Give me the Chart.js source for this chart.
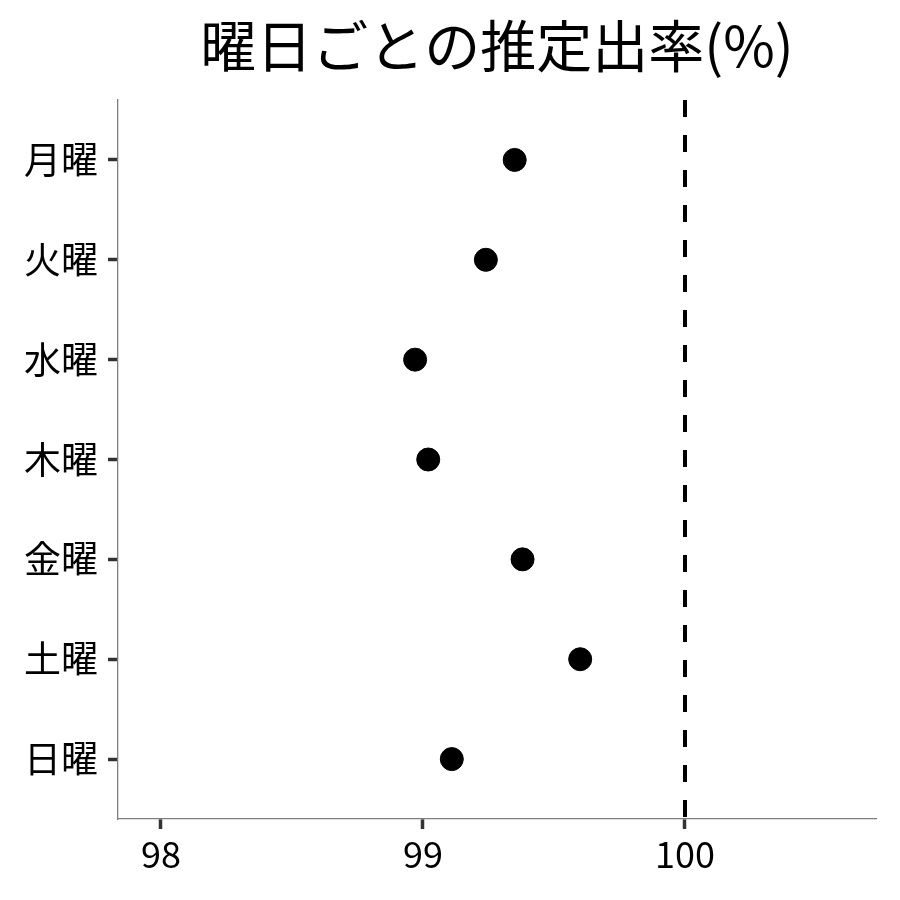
<!DOCTYPE html>
<html>
<head>
<meta charset="utf-8">
<script src="https://cdn.jsdelivr.net/npm/chart.js@4"></script>
<style>
  html, body { margin: 0; padding: 0; background: #fff; }
  #wrap { width: 900px; height: 900px; }
</style>
</head>
<body>
<div id="wrap"><canvas id="c" width="900" height="900"></canvas></div>
<script>
// data
const days = ["月曜", "火曜", "水曜", "木曜", "金曜", "土曜", "日曜"];
const rates = [99.35, 99.24, 98.97, 99.02, 99.38, 99.6, 99.11];
const xTicks = [98, 99, 100];
const refValue = 100;
const xMin = 97.836;
const xMax = 100.729;
const yMin = 0.4;
const yMax = days.length + 0.6;

const font = "'Noto Sans CJK JP', 'Noto Sans', sans-serif";

const points = rates.map((r, i) => ({ x: r, y: i + 1 }));

new Chart(document.getElementById("c"), {
  type: "scatter",
  data: {
    datasets: [
      {
        label: "推定出率",
        data: points,
        backgroundColor: "#000",
        borderColor: "#000",
        pointRadius: 11.5,
        pointHoverRadius: 11.5,
      },
      {
        type: "line",
        label: "基準",
        data: [{ x: refValue, y: yMin }, { x: refValue, y: yMax }],
        borderColor: "#000",
        borderWidth: 4,
        borderDash: [17, 18],
        pointRadius: 0,
        fill: false,
      },
    ],
  },
  options: {
    responsive: false,
    animation: false,
    layout: {
      padding: { left: 0, right: 24, top: 0, bottom: 0 },
    },
    plugins: {
      legend: { display: false },
      tooltip: { enabled: false },
      title: {
        display: true,
        fullSize: false,
        text: "曜日ごとの推定出率(%)",
        color: "#000",
        font: { family: font, size: 56, weight: "normal" },
        padding: { top: 12, bottom: 20.8 },
      },
    },
    scales: {
      x: {
        type: "linear",
        min: xMin,
        max: xMax,
        afterBuildTicks: (scale) => {
          scale.ticks = xTicks.map((v) => ({ value: v }));
        },
        afterFit: (scale) => {
          scale.height = 81;
        },
        border: { display: true, color: "#7f7f7f", width: 1.3 },
        grid: {
          display: true,
          drawOnChartArea: false,
          drawTicks: true,
          tickLength: 10,
          tickWidth: 3.5,
          tickColor: "#333",
        },
        ticks: {
          color: "#000",
          padding: 4,
          font: { family: font, size: 36 },
          callback: (v) => String(v),
        },
      },
      y: {
        type: "linear",
        reverse: true,
        min: yMin,
        max: yMax,
        afterBuildTicks: (scale) => {
          scale.ticks = days.map((d, i) => ({ value: i + 1 }));
        },
        afterFit: (scale) => {
          scale.width = 118;
        },
        border: { display: true, color: "#7f7f7f", width: 1.3 },
        grid: {
          display: true,
          drawOnChartArea: false,
          drawTicks: true,
          tickLength: 10,
          tickWidth: 3.5,
          tickColor: "#333",
        },
        ticks: {
          color: "#000",
          padding: 10,
          font: { family: font, size: 37 },
          callback: (v) => days[Math.round(v) - 1] || "",
        },
      },
    },
  },
});
</script>
</body>
</html>
